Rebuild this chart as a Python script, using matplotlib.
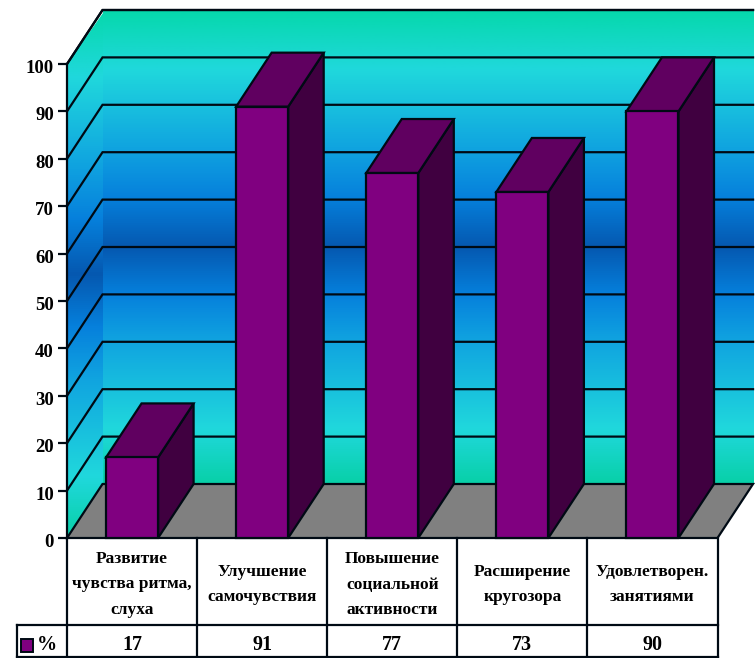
import numpy as np
import matplotlib
matplotlib.use("Agg")
import matplotlib.pyplot as plt
import matplotlib.transforms as mt
from matplotlib.colors import LinearSegmentedColormap
from matplotlib.patches import Polygon, Rectangle

categories = ["Развитие\nчувства ритма,\nслуха", "Улучшение\nсамочувствия",
              "Повышение\nсоциальной\nактивности", "Расширение\nкругозора",
              "Удовлетворен.\nзанятиями"]
values = [17, 91, 77, 73, 90]
yticks = list(range(0, 101, 10))
series_name = "%"

W, H = 755, 658
L, R, B, T = 67, 717.5, 538, 64
fig = plt.figure(figsize=(W / 100, H / 100), dpi=100, facecolor="white")
ax = fig.add_axes([L / W, 1 - B / H, (R - L) / W, (B - T) / H])
ax.patch.set_visible(False)
for s in ax.spines.values():
    s.set_visible(False)

DX = 35.5 / 130      # depth offset in x units
DY = 54 / 4.74       # depth offset in value units
XMAX_BACK = 5 + DX
serif = "Liberation Serif"
lw = 1.6
edge = "#000a14"

# gradient: position from top (0) to bottom (1)
stops = [(0.0, "#06d8ac"), (0.125, "#20d8dc"), (0.29, "#10a4e0"), (0.395, "#0680dc"),
         (0.50, "#0558b0"), (0.60, "#0680dc"), (0.70, "#10a4e0"), (0.885, "#20d8dc"),
         (1.0, "#08d0a8")]
cmap = LinearSegmentedColormap.from_list("wall", stops)
grad = np.linspace(0, 1, 512).reshape(-1, 1)

# back wall
ax.imshow(grad, cmap=cmap, extent=[DX, XMAX_BACK, DY, 100 + DY], aspect="auto",
          origin="upper", zorder=1.1, clip_on=False)
# side wall: the gradient runs over its full height
overlap = 0.02
side = ax.imshow(grad, cmap=cmap, extent=[0, DX + overlap, 0, 100 + DY], aspect="auto",
                 origin="upper", zorder=1)
clip = Polygon([[0, 0], [DX + overlap, DY], [DX + overlap, 100 + DY], [0, 100]],
               transform=ax.transData, facecolor="none", edgecolor="none")
ax.add_patch(clip)
side.set_clip_on(True)
side.set_clip_box(fig.bbox)
side.set_clip_path(clip)
ax.set_xlim(0, 5)
ax.set_ylim(0, 100)

# grid lines
for v in yticks[1:]:
    ax.plot([0, DX, XMAX_BACK], [v, v + DY, v + DY], color=edge, lw=lw, zorder=2,
            clip_on=False, solid_joinstyle="miter")
ax.plot([0, DX, XMAX_BACK], [100, 100 + DY, 100 + DY], color=edge, lw=lw, zorder=2, clip_on=False)
ax.plot([0, 0], [0, 100], color=edge, lw=lw, zorder=2, clip_on=False)

# floor
ax.add_patch(Polygon([[0, 0], [DX, DY], [XMAX_BACK, DY], [5, 0]], closed=True,
                     facecolor="#808080", edgecolor=edge, lw=lw, zorder=3, clip_on=False))

# bars
xpos = np.arange(len(values)) + 0.5
bw = 0.4
ax.bar(xpos, values, width=bw, color="#800080", edgecolor=edge, lw=lw, zorder=5, clip_on=False)
for x, v in zip(xpos, values):
    x0, x1 = x - bw / 2, x + bw / 2
    ax.add_patch(Polygon([[x1, 0], [x1 + DX, DY], [x1 + DX, v + DY], [x1, v]], closed=True,
                         facecolor="#400040", edgecolor=edge, lw=lw, zorder=4, clip_on=False))
    ax.add_patch(Polygon([[x0, v], [x0 + DX, v + DY], [x1 + DX, v + DY], [x1, v]], closed=True,
                         facecolor="#600060", edgecolor=edge, lw=lw, zorder=4, clip_on=False))

# y axis ticks
ax.set_yticks(yticks)
ax.set_yticklabels([str(v) for v in yticks], fontfamily=serif, fontweight="bold", fontsize=13.5)
ax.tick_params(axis="y", length=6.5, width=1.6, color=edge, pad=3)
ax.set_xticks([])
shift = mt.ScaledTranslation(0, -2.5 / 100, fig.dpi_scale_trans)
for lab in ax.get_yticklabels():
    lab.set_transform(lab.get_transform() + shift)

# data table, in the category scale below the axis
px = 100 / (B - T)
row1 = -(625 - B) * px
row2 = -(656.5 - B) * px
tbl_left = -(L - 17) / 130
kw = dict(color=edge, lw=lw, clip_on=False, zorder=6)
for i in range(len(values) + 1):
    ax.plot([i, i], [0, row2], **kw)
ax.plot([tbl_left, 5], [row1, row1], **kw)
ax.plot([tbl_left, 5], [row2, row2], **kw)
ax.plot([tbl_left, tbl_left], [row1, row2], **kw)
for x, c, v in zip(xpos, categories, values):
    ax.text(x, row1 / 2 - 3 * px, c, ha="center", va="center", fontfamily=serif, fontweight="bold",
            fontsize=12.5, linespacing=1.78, clip_on=False)
    ax.text(x, -(645 - B) * px, str(v), ha="center", va="center", fontfamily=serif,
            fontweight="bold", fontsize=14.5, clip_on=False)

# legend key
ax.add_patch(Rectangle((-(L - 21) / 130, -(652 - B) * px), 12 / 130, 13 * px,
                       facecolor="#800080", edgecolor=edge, lw=1.4, clip_on=False, zorder=6))
ax.text(-(L - 47) / 130, -(645 - B) * px, series_name, ha="center", va="center",
        fontfamily=serif, fontweight="bold", fontsize=14.5, clip_on=False)

fig.savefig("out.png", dpi=100, facecolor="white")
